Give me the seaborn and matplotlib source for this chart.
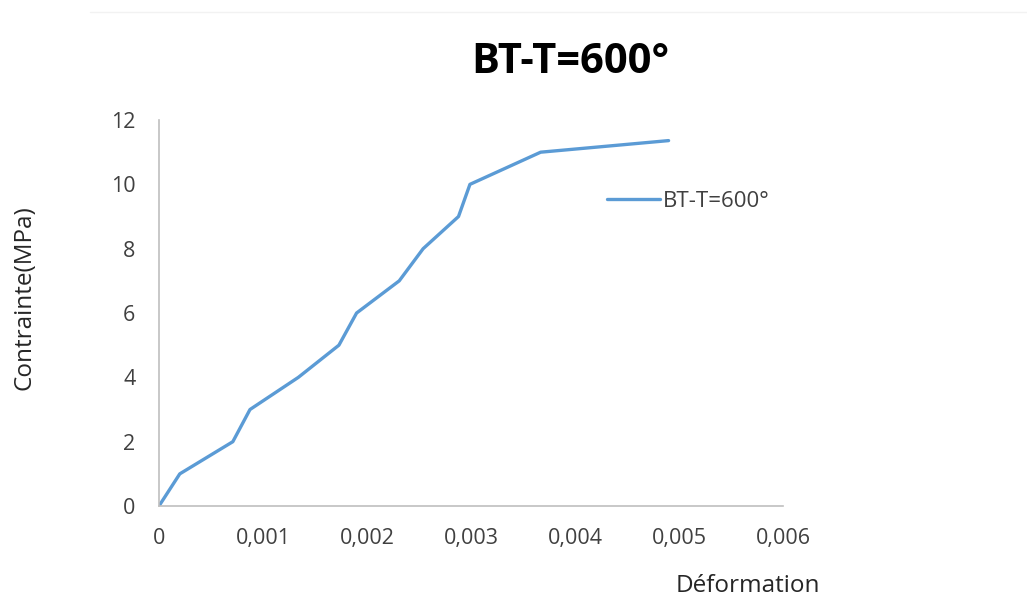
import matplotlib
matplotlib.use("Agg")
import matplotlib.pyplot as plt
import seaborn as sns
import pandas as pd

# Data
deformation = [0.0, 0.0002, 0.00071, 0.000875, 0.00134, 0.00173, 0.0019, 0.00231, 0.00254, 0.00288, 0.00299, 0.00367, 0.0049]
contrainte = [0, 1, 2, 3, 4, 5, 6, 7, 8, 9, 10, 11, 11.36]
series_name = "BT-T=600°"
x_ticks = [0, 0.001, 0.002, 0.003, 0.004, 0.005, 0.006]
x_tick_labels = ["0", "0,001", "0,002", "0,003", "0,004", "0,005", "0,006"]
y_ticks = [0, 2, 4, 6, 8, 10, 12]

sns.set_style("white")
plt.rcParams['font.family'] = ['Open Sans', 'DejaVu Sans']

df = pd.DataFrame({"x": deformation, "y": contrainte, "s": series_name})

fig = plt.figure(figsize=(10.27, 5.98), dpi=100)
ax = fig.add_axes([0.1548, 0.1538, 0.6076, 0.6455])

sns.lineplot(data=df, x="x", y="y", hue="s", palette=["#5B9BD5"], lw=2.4,
             ax=ax, sort=False, estimator=None)

ax.set_xlim(0, 0.006)
ax.set_ylim(0, 12)
ax.set_xticks(x_ticks)
ax.set_xticklabels(x_tick_labels)
ax.set_yticks(y_ticks)
ax.tick_params(axis="both", labelsize=15.5, colors="#404040", length=5, width=1,
               direction="out", color="#BFBFBF")
ax.tick_params(axis="y", pad=12)
ax.tick_params(axis="x", pad=11)
for s in ["top", "right"]:
    ax.spines[s].set_visible(False)
for s in ["left", "bottom"]:
    ax.spines[s].set_color("#BFBFBF")
    ax.spines[s].set_linewidth(1.2)
ax.set_xlabel("")
ax.set_ylabel("")

fig.text(0.728, 0.01, "Déformation", fontsize=17.5, color="#262626", ha="center", va="baseline")
fig.text(0.024, 0.502, "Contrainte(MPa)", fontsize=17.5, color="#262626", rotation=90,
         ha="center", va="center")
fig.text(0.555, 0.895, "BT-T=600°", fontsize=30, fontweight="bold", color="black",
         ha="center", va="center")

leg = ax.legend(loc="center left", bbox_to_anchor=(0.718, 0.79), frameon=False,
                fontsize=16, handlelength=2.4, handletextpad=0.12, borderaxespad=0,
                borderpad=0)
for t in leg.get_texts():
    t.set_color("#404040")

# faint top border line as in reference
fig.add_artist(plt.Line2D([0.088, 1.0], [0.98, 0.98], color="#F2F2F2", lw=1))

fig.savefig("out.png", dpi=100, facecolor="white")
